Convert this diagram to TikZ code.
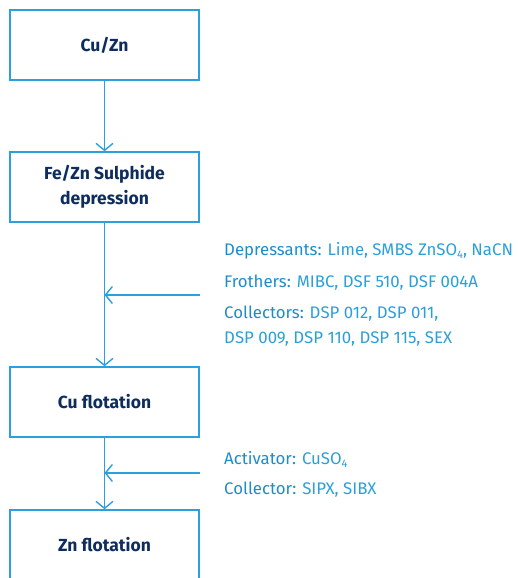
\documentclass[tikz,border=0pt]{standalone}
\usepackage{fontspec}
\setmainfont{Fira Sans}
\usetikzlibrary{arrows.meta,positioning}
\definecolor{boxline}{HTML}{2CA0DC}
\definecolor{navy}{HTML}{0E2D5E}
\definecolor{lbl}{HTML}{1E8CCB}
\definecolor{txt}{HTML}{2C9FD8}
\newcommand{\subfour}{\raisebox{-0.35ex}{\fontsize{11}{11}\selectfont 4}}
\begin{document}
\begin{tikzpicture}[x=1pt,y=-1pt,
  stage/.style={draw=boxline,line width=1.5pt,minimum width=189pt,minimum height=70pt,
    align=center,text=navy,font=\fontsize{17.5}{25}\selectfont\bfseries,inner sep=0pt},
  flow/.style={draw=boxline,line width=1.5pt,-{Straight Barb[length=7pt,width=17pt,line width=1.4pt]}},
  info/.style={anchor=west,text=txt,font=\fontsize{16.8}{20}\selectfont,inner sep=0pt}]
\useasboundingbox (0,0) rectangle (517,578);
\clip (0,0) rectangle (517,578);
\node[stage] (a) at (104.5,45) {Cu/Zn};
\node[stage] (b) at (104.5,187) {Fe/Zn Sulphide\\depression};
\node[stage] (c) at (104.5,402) {Cu flotation};
\node[stage] (d) at (104.5,545) {Zn flotation};
\draw[flow] (a) -- (b);
\draw[flow] (b) -- (c);
\draw[flow] (c) -- (d);
\coordinate (s1) at (200,295);
\coordinate (s2) at (200,473);
\draw[flow] (s1) -- (s1 -| c);
\draw[flow] (s2) -- (s2 -| c);
\node[info] (t1) at (224,251) {\textcolor{lbl}{Depressants:} Lime, SMBS ZnSO\subfour, NaCN};
\node[info] (t2) at (224,283) {\textcolor{lbl}{Frothers:} MIBC, DSF 510, DSF 004A};
\node[info] (t3) at (224,314) {\textcolor{lbl}{Collectors:} DSP 012, DSP 011,};
\node[info] (t4) at (224,339) {DSP 009, DSP 110, DSP 115, SEX};
\node[info] (t5) at (224,459) {\textcolor{lbl}{Activator:} CuSO\subfour};
\node[info] (t6) at (224,490) {\textcolor{lbl}{Collector:} SIPX, SIBX};
\end{tikzpicture}
\end{document}
